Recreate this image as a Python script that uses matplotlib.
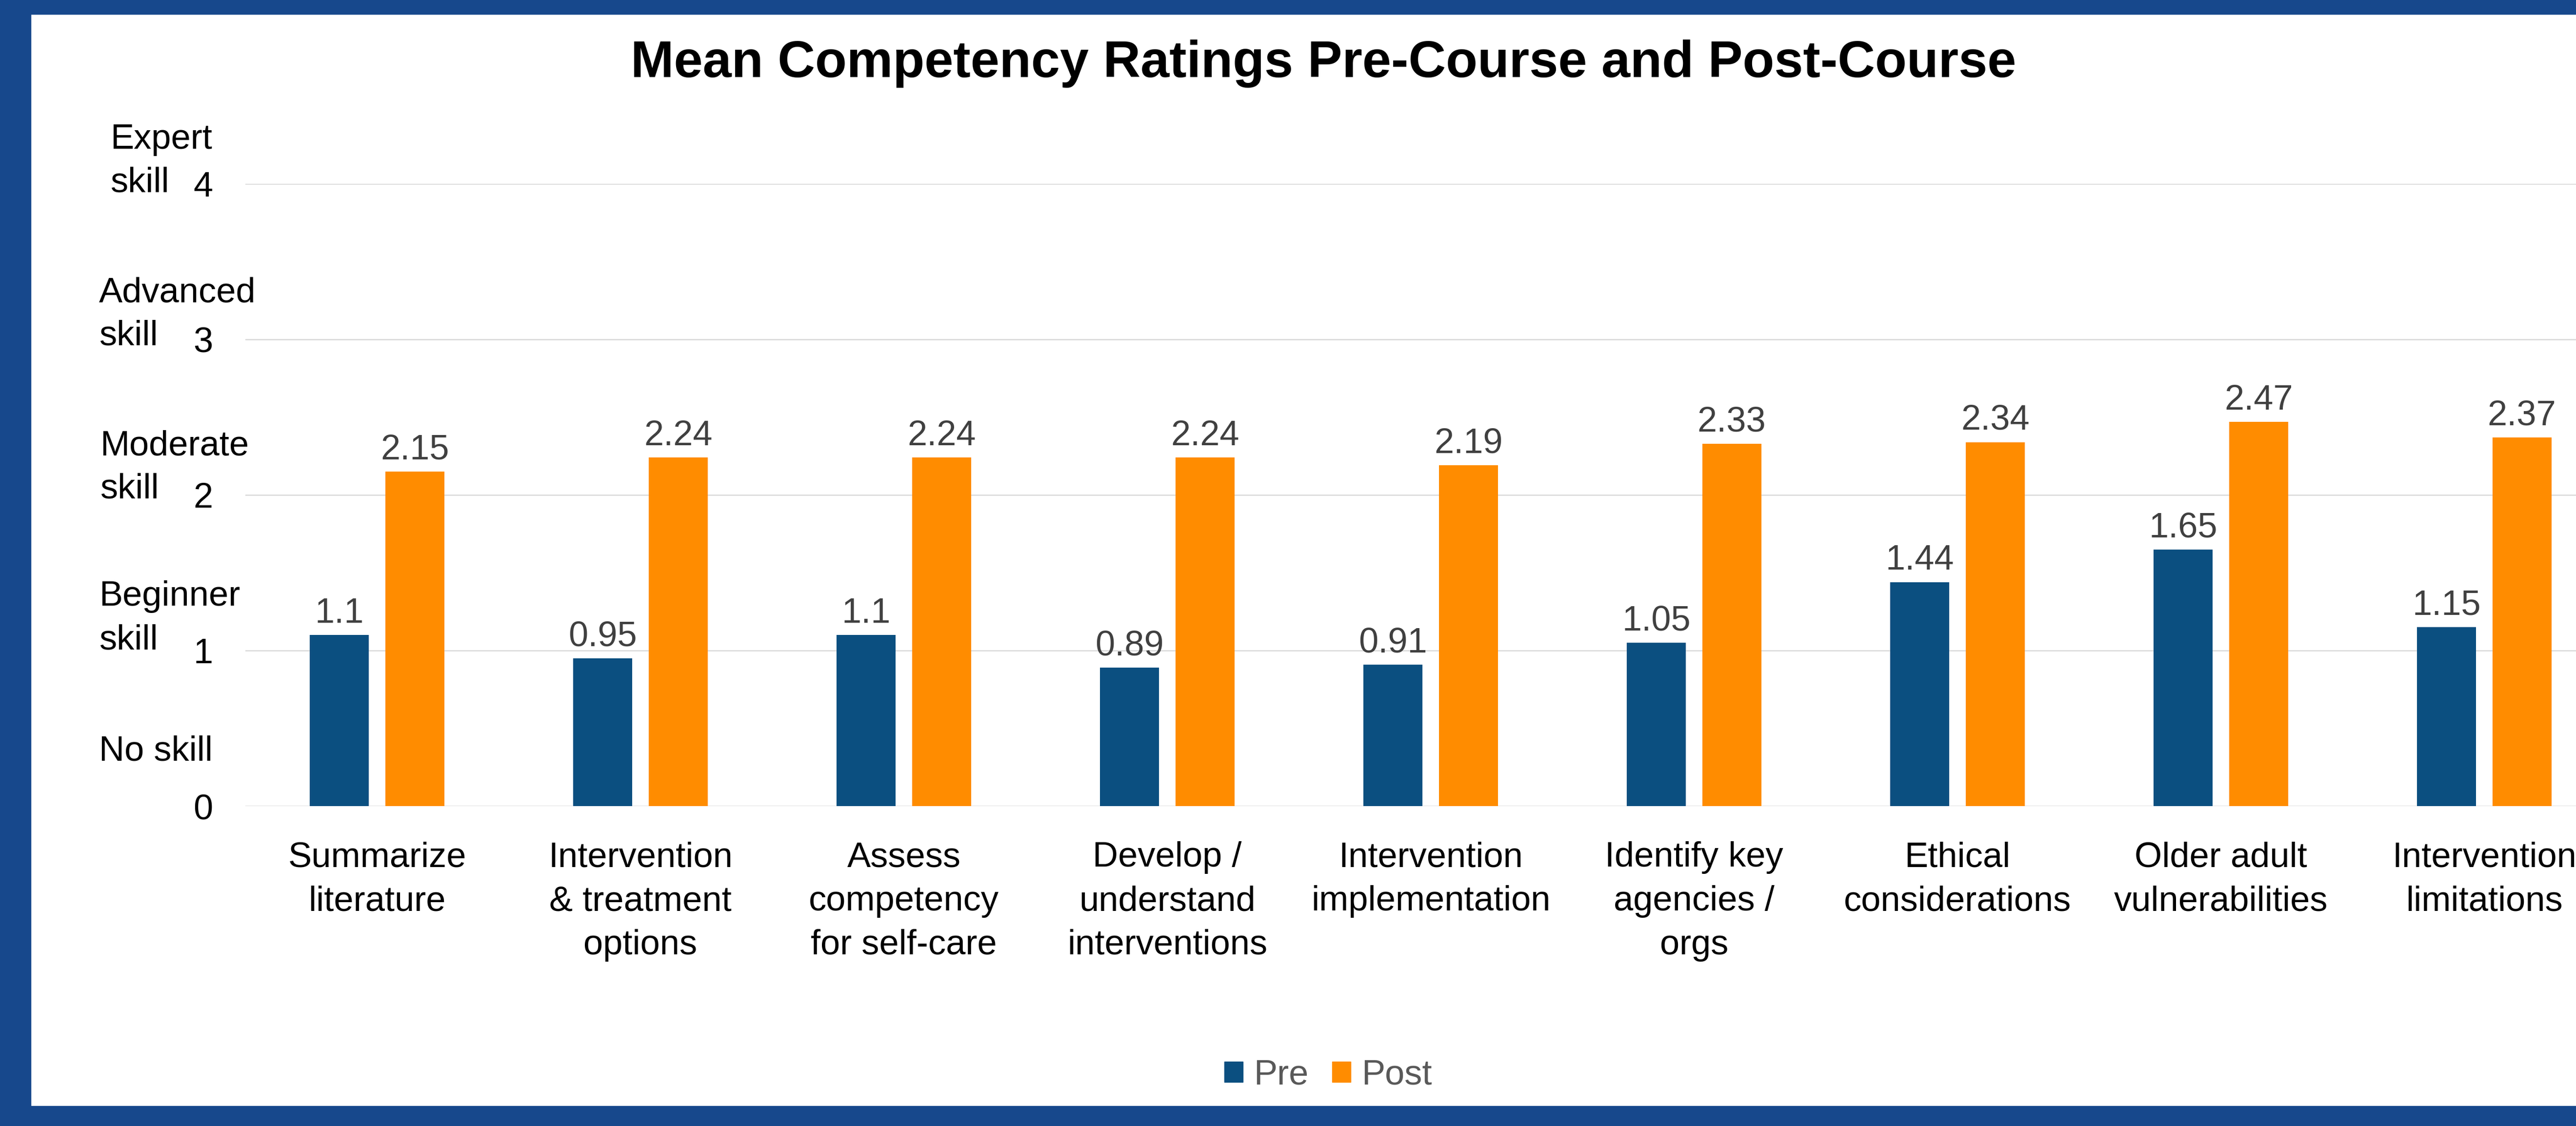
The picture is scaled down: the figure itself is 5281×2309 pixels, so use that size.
import numpy as np
import matplotlib
matplotlib.use("Agg")
import matplotlib.pyplot as plt
from matplotlib.patches import Rectangle, Patch

plt.rcParams['font.family'] = ['Liberation Sans', 'DejaVu Sans']

# data
categories = ["Summarize\nliterature",
              "Intervention\n& treatment\noptions",
              "Assess\ncompetency\nfor self-care",
              "Develop /\nunderstand\ninterventions",
              "Intervention\nimplementation",
              "Identify key\nagencies /\norgs",
              "Ethical\nconsiderations",
              "Older adult\nvulnerabilities",
              "Intervention\nlimitations"]
pre = [1.1, 0.95, 1.1, 0.89, 0.91, 1.05, 1.44, 1.65, 1.15]
post = [2.15, 2.24, 2.24, 2.24, 2.19, 2.33, 2.34, 2.47, 2.37]
series_names = ["Pre", "Post"]
y_ticks = [0, 1, 2, 3, 4]
skill_levels = [("Expert", "skill"), ("Advanced", "skill"), ("Moderate", "skill"),
                ("Beginner", "skill"), ("No skill",)]

PRE_COLOR = "#0B4F80"
POST_COLOR = "#FF8C00"
FRAME = "#17488C"
GRID = "#D9D9D9"

W, H = 5281, 2309
fig = plt.figure(figsize=(W / 100, H / 100), dpi=100)
fig.patch.set_facecolor("white")

# blue slide frame (top, left, bottom; the right side is cropped)
fig.add_artist(Rectangle((0, 1 - 29 / H), 1, 29 / H, transform=fig.transFigure,
                         color=FRAME, zorder=0))
fig.add_artist(Rectangle((0, 0), 63 / W, 1, transform=fig.transFigure,
                         color=FRAME, zorder=0))
fig.add_artist(Rectangle((0, 0), 1, 41 / H, transform=fig.transFigure,
                         color=FRAME, zorder=0))

ax_l, ax_r, ax_t, ax_b = 503, 5363, 377, 1653
ax = fig.add_axes([ax_l / W, 1 - ax_b / H, (ax_r - ax_l) / W, (ax_b - ax_t) / H])

x = np.arange(len(categories))
bw = 0.224
off = 0.143
b1 = ax.bar(x - off, pre, bw, color=PRE_COLOR, label=series_names[0], zorder=3)
b2 = ax.bar(x + off, post, bw, color=POST_COLOR, label=series_names[1], zorder=3)

ax.bar_label(b1, labels=[f"{v:g}" for v in pre], padding=7.6, fontsize=52, color="#404040")
ax.bar_label(b2, labels=[f"{v:g}" for v in post], padding=7.6, fontsize=52, color="#404040")

ax.set_xlim(-0.5, len(categories) - 0.5)
ax.set_ylim(0, 4)
ax.set_yticks(y_ticks)
ax.set_yticklabels([str(t) for t in y_ticks], fontsize=52)
ax.set_xticks(x)
ax.set_xticklabels(categories, fontsize=52, linespacing=1.44)
ax.tick_params(axis="y", length=0, pad=48)
ax.tick_params(axis="x", length=0, pad=52)
ax.yaxis.grid(True, color=GRID, linewidth=1.8)
ax.set_axisbelow(True)
for s in ax.spines.values():
    s.set_visible(False)

# skill descriptors next to the y ticks (left x, baseline of last line)
desc_pos = [(226, 394), (203, 708), (205, 1022), (203, 1331), (203, 1559)]
for words, (px, py) in zip(skill_levels, desc_pos):
    for k, w in enumerate(reversed(words)):
        fig.text(px / W, 1 - (py - k * 89) / H, w, fontsize=52,
                 ha="left", va="baseline", color="black")

fig.text(2713 / W, 1 - 158 / H, "Mean Competency Ratings Pre-Course and Post-Course",
         fontsize=76.5, fontweight="bold", ha="center", va="baseline")

handles = [Patch(color=PRE_COLOR), Patch(color=POST_COLOR)]
fig.legend(handles, series_names, loc="center", bbox_to_anchor=(2723 / W, 1 - 2205 / H),
           ncol=2, frameon=False, fontsize=52, labelcolor="#595959",
           handlelength=0.52, handleheight=0.52, handletextpad=0.31, columnspacing=0.68)

fig.savefig("out.png", dpi=100)
